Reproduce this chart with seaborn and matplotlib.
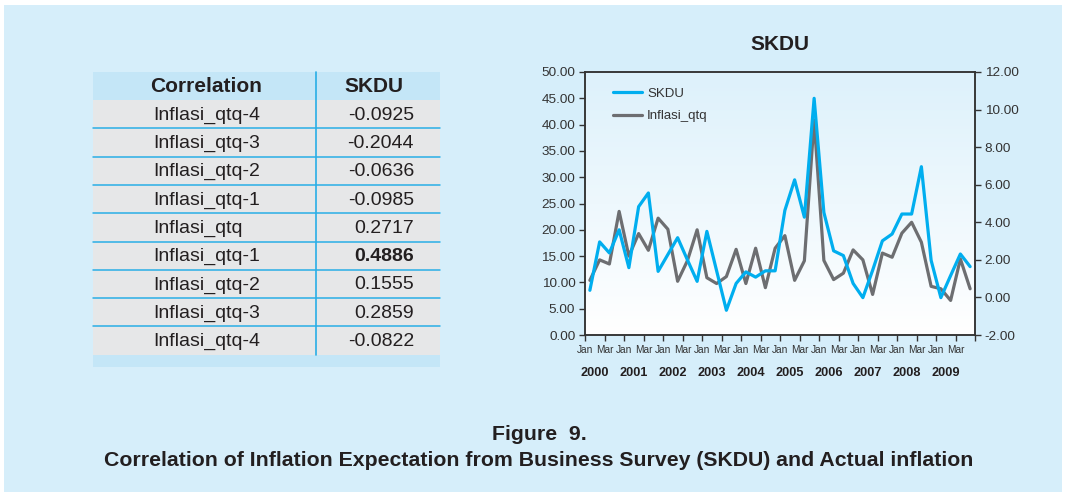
import numpy as np
import pandas as pd
import matplotlib
matplotlib.use('Agg')
import matplotlib.pyplot as plt
from matplotlib.colors import LinearSegmentedColormap
from matplotlib.lines import Line2D
from matplotlib.patches import Rectangle
import matplotlib.transforms as mtransforms
import seaborn as sns

sns.set_style('ticks')
plt.rcParams['font.family'] = ['Liberation Sans', 'DejaVu Sans']

# 表格数据
corr_labels = ['Inflasi_qtq-4', 'Inflasi_qtq-3', 'Inflasi_qtq-2', 'Inflasi_qtq-1', 'Inflasi_qtq',
               'Inflasi_qtq-1', 'Inflasi_qtq-2', 'Inflasi_qtq-3', 'Inflasi_qtq-4']
corr_values = ['-0.0925', '-0.2044', '-0.0636', '-0.0985', '0.2717',
               '0.4886', '0.1555', '0.2859', '-0.0822']
bold_row = 5

# 季度数据 2000Q1 - 2009Q4
years = list(range(2000, 2010))
month_labels = ['Jan', 'Mar'] * 10
skdu = [8.5, 17.7, 15.6, 20.0, 12.8, 24.4, 27.0, 12.1, 15.3, 18.5,
        14.3, 10.2, 19.7, 12.2, 4.7, 9.8, 12.0, 11.0, 12.2, 12.2,
        23.7, 29.5, 22.4, 45.0, 23.3, 16.0, 15.1, 9.8, 7.1, 12.3,
        17.9, 19.2, 23.0, 23.0, 32.0, 14.2, 7.1, 11.3, 15.4, 13.0]
inflasi = [0.91, 2.00, 1.78, 4.58, 2.20, 3.40, 2.51, 4.22, 3.63, 0.86,
           1.95, 3.60, 1.05, 0.74, 1.11, 2.56, 0.74, 2.62, 0.52, 2.62,
           3.29, 0.91, 1.95, 9.45, 1.97, 0.95, 1.29, 2.53, 2.00, 0.16,
           2.36, 2.14, 3.42, 4.00, 2.94, 0.59, 0.46, -0.16, 2.05, 0.46]

df = pd.DataFrame({'t': np.arange(len(skdu)), 'SKDU': skdu, 'Inflasi_qtq': inflasi})

W, H = 1066, 495
blue = '#00AEEF'
grey = '#6D6E71'
txt = '#231F20'
fig = plt.figure(figsize=(W / 100, H / 100), dpi=100, facecolor='white')

# 背景和表格 (像素坐标)
bg = fig.add_axes([0, 0, 1, 1], zorder=0)
bg.set_xlim(0, W)
bg.set_ylim(H, 0)
bg.axis('off')
bg.add_patch(Rectangle((4, 5), 1058, 487, color='#D6EEFA', lw=0))

tx0, tx1, tcol = 93, 440, 316
head_top, head_bot, row_h = 72, 100, 28.3
bg.add_patch(Rectangle((tx0, head_top), tx1 - tx0, head_bot - head_top, color='#C4E6F7', lw=0))
n = len(corr_labels)
bg.add_patch(Rectangle((tx0, head_bot), tx1 - tx0, row_h * n, color='#E6E7E8', lw=0))
bg.add_patch(Rectangle((tx0, head_bot + row_h * n), tx1 - tx0, 12, color='#C4E6F7', lw=0))
for k in range(1, n):
    bg.plot([tx0, tx1], [head_bot + row_h * k] * 2, color='#29AEE6', lw=1.1)
bg.plot([tcol, tcol], [head_top, head_bot + row_h * n], color='#29AEE6', lw=1.2)
bg.text(206, (head_top + head_bot) / 2 + 1, 'Correlation', ha='center', va='center',
        fontsize=15, fontweight='bold', color=txt)
bg.text(374, (head_top + head_bot) / 2 + 1, 'SKDU', ha='center', va='center',
        fontsize=15, fontweight='bold', color=txt)
for k, (lab, val) in enumerate(zip(corr_labels, corr_values)):
    yc = head_bot + row_h * (k + 0.5) + 1
    bg.text(153, yc, lab, ha='left', va='center', fontsize=14, color=txt)
    bg.text(414, yc, val, ha='right', va='center', fontsize=14, color=txt,
            fontweight='bold' if k == bold_row else 'normal')

# 折线图
ax = fig.add_axes([585 / W, 1 - 335 / H, 390 / W, 263 / H])
ax2 = ax.twinx()
ax.set_zorder(3)
ax2.set_zorder(2)
ax.patch.set_visible(False)

cmap = LinearSegmentedColormap.from_list('bgc', ['#FFFFFF', '#DDF1FB'])
ax2.imshow(np.linspace(0, 1, 256).reshape(-1, 1), cmap=cmap, origin='lower',
           extent=[0, 1, 0, 1], transform=ax2.transAxes, aspect='auto', zorder=0)

sns.lineplot(data=df, x='t', y='Inflasi_qtq', ax=ax2, color=grey, lw=2.3, zorder=2)
sns.lineplot(data=df, x='t', y='SKDU', ax=ax, color=blue, lw=2.3, zorder=3)

ax.set_xlim(-0.5, len(skdu) - 0.5)
ax.set_ylim(0, 50)
ax2.set_ylim(-2, 12)
ax.set_yticks(np.arange(0, 51, 5))
ax.set_yticklabels([f'{v:.2f}' for v in np.arange(0, 51, 5)])
ax2.set_yticks(np.arange(-2, 13, 2))
ax2.set_yticklabels([f'{v:.2f}' for v in np.arange(-2, 13, 2)])
ax.set_xticks(np.arange(-0.5, len(skdu), 2))
ax.set_xticklabels(month_labels + [''])
ax.set_xlabel('')
ax.set_ylabel('')
ax2.set_ylabel('')

for a in (ax, ax2):
    for s in a.spines.values():
        s.set_color('#333333')
        s.set_linewidth(1.1)
        s.set_visible(True)
ax.tick_params(axis='y', direction='out', length=4, width=1, color='#333333',
               labelsize=9.7, labelcolor='#333333', pad=3)
ax2.tick_params(axis='y', direction='out', length=4, width=1, color='#333333',
                labelsize=9.7, labelcolor='#333333', pad=3)
ax.tick_params(axis='x', direction='out', length=4, width=1, color='#333333',
               labelsize=7.3, labelcolor='#333333', pad=3)

trans = mtransforms.blended_transform_factory(ax.transData, ax.transAxes)
for k, yr in enumerate(years):
    ax.text(4 * k + 0.5, -38 / 263, str(yr), transform=trans, ha='center', va='center',
            fontsize=9.2, fontweight='bold', color=txt)

handles = [Line2D([], [], color=blue, lw=2.3), Line2D([], [], color=grey, lw=2.3)]
ax.legend(handles, ['SKDU', 'Inflasi_qtq'], loc='upper left', frameon=False,
          bbox_to_anchor=(0.058, 0.96), borderaxespad=0, fontsize=9.5,
          handlelength=2.2, handletextpad=0.4, labelspacing=0.75, labelcolor='#333333')

fig.text(780 / W, 1 - 45 / H, 'SKDU', ha='center', va='center', fontsize=15,
         fontweight='bold', color=txt)
fig.text(539 / W, 1 - 435 / H, 'Figure  9.', ha='center', va='center', fontsize=15.3,
         fontweight='bold', color=txt)
fig.text(539 / W, 1 - 461 / H,
         'Correlation of Inflation Expectation from Business Survey (SKDU) and Actual inflation',
         ha='center', va='center', fontsize=15.3, fontweight='bold', color=txt)

fig.savefig('out.png', dpi=100, facecolor='white')
